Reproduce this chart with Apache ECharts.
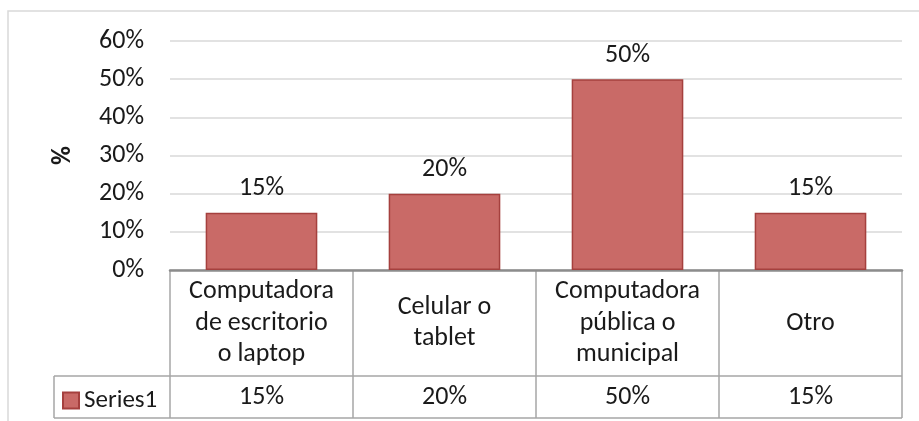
<!DOCTYPE html>
<html>
<head>
<meta charset="utf-8">
<script src="https://cdn.jsdelivr.net/npm/echarts@6/dist/echarts.min.js"></script>
<style>
  html, body { margin: 0; padding: 0; background: #fff; }
  #chart { width: 919px; height: 421px; }
</style>
</head>
<body>
<div id="chart"></div>
<script>
const categories = [
  "Computadora\nde escritorio\no laptop",
  "Celular o\ntablet",
  "Computadora\npública o\nmunicipal",
  "Otro",
];
const seriesName = "Series1";
const values = [15, 20, 50, 15];
const yTicks = { min: 0, max: 60, interval: 10 };

const FONT = "Carlito, Calibri, Lato, sans-serif";
const FS = 26;
const HEADER_H = 106;
const ROW_H = 42;

const chart = echarts.init(document.getElementById("chart"));

const option = {
  animation: false,
  textStyle: { fontFamily: FONT },
  grid: { left: 170, right: 17, top: 41, bottom: 151 },
  legend: {
    data: [seriesName],
    left: 57,
    top: 383,
    itemWidth: 16,
    itemHeight: 16,
    itemGap: 5,
    icon: "rect",
    textStyle: { fontFamily: FONT, fontSize: 25, color: "#1a1a1a" },
  },
  xAxis: [
    {
      type: "category",
      data: categories,
      axisLine: { show: true, lineStyle: { color: "#8c8c8c", width: 2.5 } },
      axisTick: { show: false },
      axisLabel: {
        margin: HEADER_H / 2,
        verticalAlign: "middle",
        fontFamily: FONT,
        fontSize: FS,
        lineHeight: 31.5,
        color: "#1a1a1a",
        interval: 0,
      },
    },
    {
      type: "category",
      position: "bottom",
      offset: 0,
      data: values.map((v) => v + "%"),
      axisLine: { show: false },
      axisTick: { show: false },
      axisLabel: {
        margin: HEADER_H + ROW_H / 2,
        verticalAlign: "middle",
        fontFamily: FONT,
        fontSize: FS,
        color: "#1a1a1a",
        interval: 0,
      },
    },
  ],
  yAxis: {
    type: "value",
    min: yTicks.min,
    max: yTicks.max,
    interval: yTicks.interval,
    name: "%",
    nameLocation: "middle",
    nameRotate: 90,
    nameGap: 94,
    nameTextStyle: { fontFamily: FONT, fontSize: FS, fontWeight: "bold", color: "#1a1a1a" },
    axisLine: { show: false },
    axisTick: { show: false },
    axisLabel: {
      formatter: "{value}%",
      margin: 26,
      fontFamily: FONT,
      fontSize: FS,
      color: "#1a1a1a",
    },
    splitLine: { lineStyle: { color: "#d9d9d9", width: 1.5 } },
  },
  series: [
    {
      name: seriesName,
      type: "bar",
      data: values,
      barCategoryGap: "39%",
      itemStyle: { color: "#c96a67", borderColor: "#a5403e", borderWidth: 1.5 },
      label: {
        show: true,
        position: "top",
        distance: 11,
        formatter: (p) => p.value + "%",
        fontFamily: FONT,
        fontSize: FS,
        color: "#1a1a1a",
      },
    },
  ],
};
chart.setOption(option);

// data table grid lines
const p0 = chart.convertToPixel({ gridIndex: 0 }, [0, 0]);
const p1 = chart.convertToPixel({ gridIndex: 0 }, [1, 0]);
const band = p1[0] - p0[0];
const x0 = p0[0] - band / 2;
const yTop = p0[1];
const yMid = yTop + HEADER_H;
const yBot = yMid + ROW_H;
const legendLeft = 54;
const lineStyle = { stroke: "#a6a6a6", lineWidth: 1.5 };
const lines = [];
for (let i = 0; i <= categories.length; i++) {
  const x = x0 + i * band;
  lines.push({ type: "line", shape: { x1: x, y1: yTop, x2: x, y2: yBot }, style: lineStyle });
}
lines.push({ type: "line", shape: { x1: legendLeft, y1: yMid, x2: x0 + categories.length * band, y2: yMid }, style: lineStyle });
lines.push({ type: "line", shape: { x1: legendLeft, y1: yBot, x2: x0 + categories.length * band, y2: yBot }, style: lineStyle });
lines.push({ type: "line", shape: { x1: legendLeft, y1: yMid, x2: legendLeft, y2: yBot }, style: lineStyle });
// outer chart border
lines.push({
  type: "rect",
  shape: { x: 8, y: 11, width: 1000, height: 1000 },
  style: { fill: null, stroke: "#d9d9d9", lineWidth: 1.5 },
  silent: true,
});
chart.setOption({ graphic: lines });
</script>
</body>
</html>
